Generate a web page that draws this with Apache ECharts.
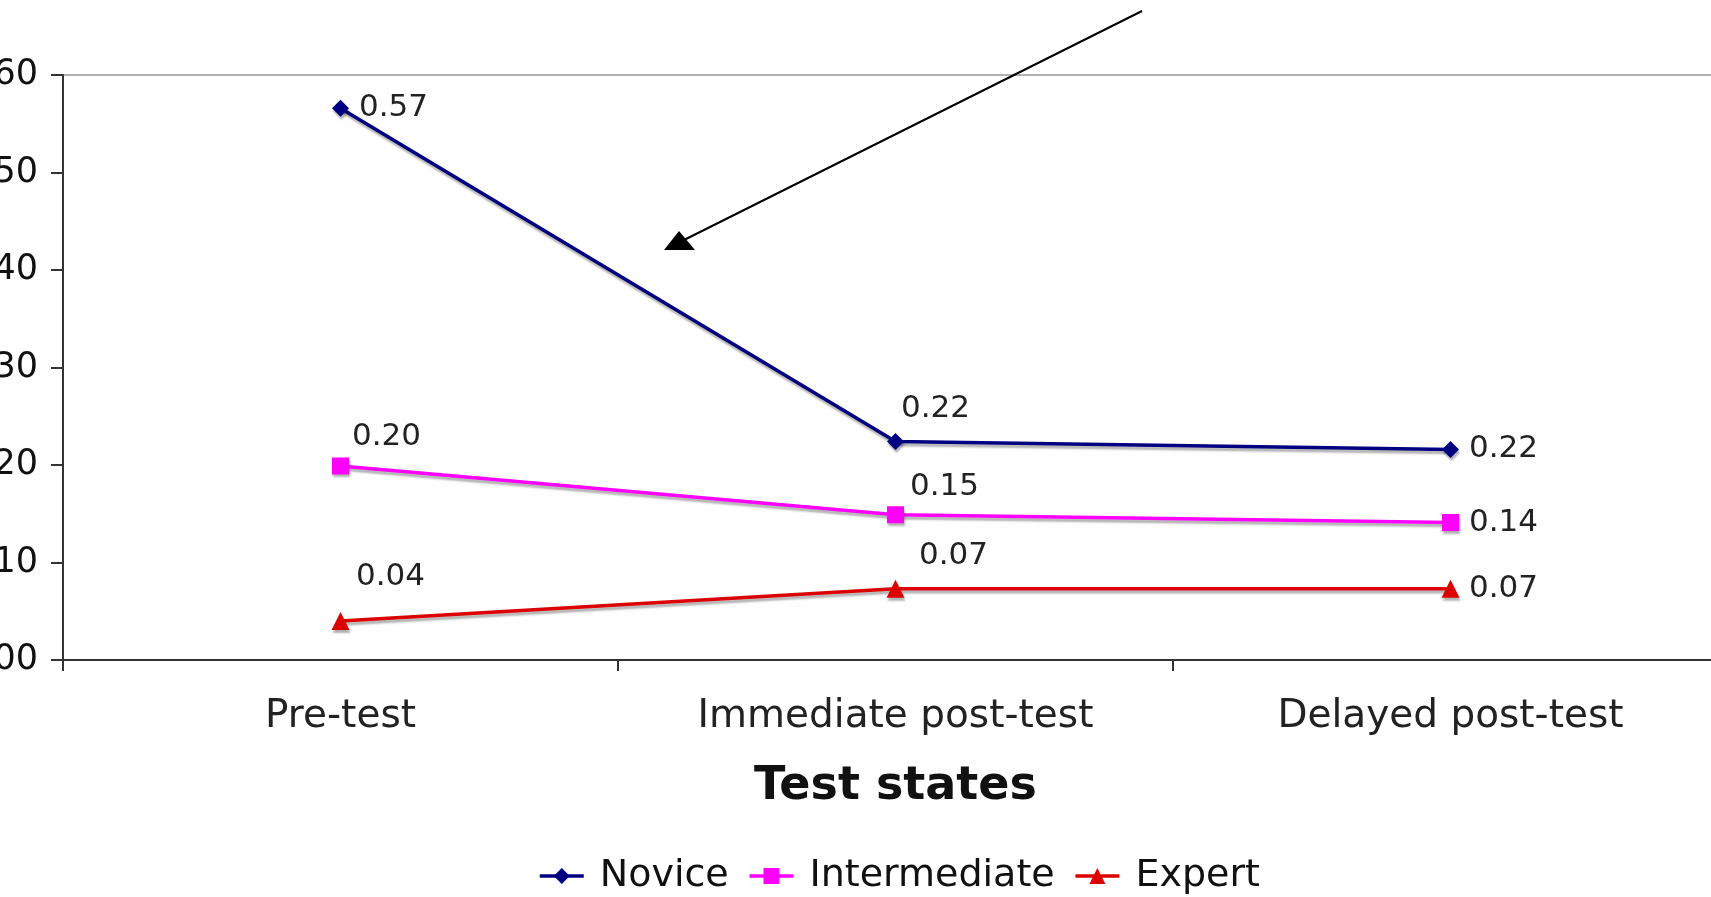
<!DOCTYPE html>
<html>
<head>
<meta charset="utf-8">
<script src="https://cdn.jsdelivr.net/npm/echarts@6/dist/echarts.min.js"></script>
<style>
html,body{margin:0;padding:0;background:#fff;}
#chart{width:1711px;height:897px;}
</style>
</head>
<body>
<div id="chart"></div>
<script>
const categories = ['Pre-test', 'Immediate post-test', 'Delayed post-test'];
const seriesNames = ['Novice', 'Intermediate', 'Expert'];
const novice = [0.566, 0.224, 0.216];
const intermediate = [0.199, 0.149, 0.141];
const expert = [0.04, 0.073, 0.073];
const yTicks = { min: 0, max: 0.6, interval: 0.1 };

const FONT = 'DejaVu Sans';
const chart = echarts.init(document.getElementById('chart'));

// label offsets (relative to point centre) per series per category
const labelOffsets = {
  Novice: [[53, 0], [40, -33], [53, 0]],
  Intermediate: [[46, -29], [49, -28], [53, 0]],
  Expert: [[50, -44], [58, -33], [53, 0]]
};

function makeSeries(name, values, color, symbol, size) {
  return {
    name: name,
    type: 'line',
    data: values.map((v, i) => ({
      value: v,
      label: { offset: labelOffsets[name][i] }
    })),
    symbol: symbol,
    symbolSize: size,
    color: color,
    lineStyle: {
      width: 3.5, color: color,
      shadowColor: 'rgba(0,0,0,0.3)', shadowBlur: 2, shadowOffsetX: 1, shadowOffsetY: 3
    },
    itemStyle: {
      color: color,
      shadowColor: 'rgba(0,0,0,0.3)', shadowBlur: 2, shadowOffsetX: 1, shadowOffsetY: 3
    },
    label: {
      show: true,
      position: 'inside',
      formatter: p => p.value.toFixed(2),
      fontFamily: FONT, fontSize: 31, color: '#222'
    },
    emphasis: { disabled: true },
    z: 3
  };
}

chart.setOption({
  animation: false,
  backgroundColor: '#ffffff',
  grid: {
    left: 63, top: 75, width: 1665, height: 585,
    containLabel: false, outerBoundsMode: 'none',
    show: true, borderColor: '#999999', borderWidth: 1.5, backgroundColor: '#fefefe'
  },
  xAxis: {
    type: 'category',
    data: categories,
    boundaryGap: true,
    axisLine: { lineStyle: { color: '#333', width: 2 } },
    axisTick: { show: true, length: 11, alignWithLabel: false, lineStyle: { color: '#333', width: 2 } },
    axisLabel: { fontFamily: FONT, fontSize: 39, color: '#222', margin: 37 },
    name: 'Test states',
    nameLocation: 'middle',
    nameGap: 104,
    nameTextStyle: { fontFamily: FONT, fontSize: 46, fontWeight: 'bold', color: '#111' }
  },
  yAxis: {
    type: 'value',
    min: yTicks.min, max: yTicks.max, interval: yTicks.interval,
    splitLine: { show: false },
    axisLine: { show: true, lineStyle: { color: '#333', width: 2 } },
    axisTick: { show: true, length: 12, lineStyle: { color: '#333', width: 2 } },
    axisLabel: { fontFamily: FONT, fontSize: 35, color: '#111', margin: 25, formatter: v => v.toFixed(2) }
  },
  legend: {
    left: 533, top: 852,
    itemWidth: 44, itemHeight: 20, itemGap: 19,
    lineStyle: { width: 3.5 },
    textStyle: { fontFamily: FONT, fontSize: 38, color: '#111', padding: [0, 0, 0, 11] },
    data: seriesNames
  },
  series: [
    makeSeries('Novice', novice, '#000080', 'diamond', 17),
    makeSeries('Intermediate', intermediate, '#ff00ff', 'rect', 17),
    makeSeries('Expert', expert, '#dd0000', 'triangle', 18)
  ],
  graphic: [
    { type: 'line', shape: { x1: 1142, y1: 11, x2: 684, y2: 240 }, style: { stroke: '#000', lineWidth: 2 }, z: 10 },
    { type: 'polygon', shape: { points: [[679, 231], [664, 250], [695, 250]] }, style: { fill: '#000' }, z: 10 }
  ]
});
</script>
</body>
</html>
